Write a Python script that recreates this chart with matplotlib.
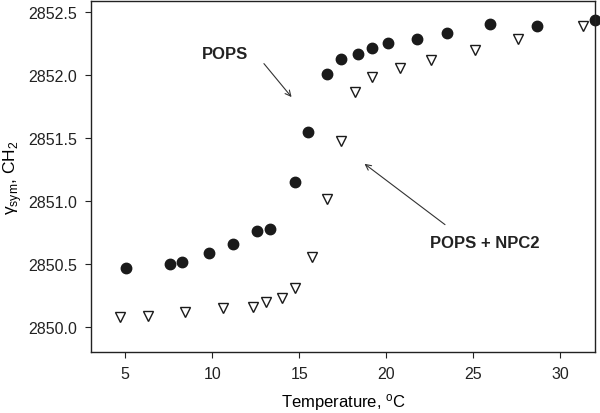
import matplotlib.pyplot as plt

plt.rcParams['font.family'] = ['Liberation Sans', 'DejaVu Sans']
plt.rcParams['mathtext.fontset'] = 'custom'
plt.rcParams['mathtext.rm'] = 'Liberation Sans'

# POPS (filled circles)
pops_t = [5.06, 7.59, 8.28, 9.81, 11.22, 12.59, 13.32, 14.77, 15.5, 16.59,
          17.37, 18.37, 19.2, 20.1, 21.78, 23.49, 25.98, 28.68, 32.0]
pops_v = [2850.47, 2850.50, 2850.52, 2850.59, 2850.66, 2850.76, 2850.78, 2851.15,
          2851.55, 2852.01, 2852.13, 2852.17, 2852.22, 2852.26, 2852.29, 2852.34,
          2852.41, 2852.39, 2852.44]

# POPS + NPC2 (open triangles)
npc_t = [4.71, 6.30, 8.41, 10.61, 12.32, 13.09, 14.0, 14.77, 15.73, 16.59,
         17.40, 18.2, 19.2, 20.79, 22.59, 25.07, 27.57, 31.28]
npc_v = [2850.08, 2850.09, 2850.12, 2850.15, 2850.16, 2850.20, 2850.23, 2850.31,
         2850.56, 2851.02, 2851.48, 2851.87, 2851.99, 2852.06, 2852.12, 2852.20,
         2852.29, 2852.39]

fig = plt.figure(figsize=(6, 4.14), dpi=100)
ax = fig.add_axes([0.152, 0.147, 0.84, 0.848])

ax.plot(pops_t, pops_v, 'o', color='#1a1a1a', markersize=7.5, linestyle='none', clip_on=False)
ax.plot(npc_t, npc_v, 'v', markerfacecolor='white', markeredgecolor='#1a1a1a',
        markersize=7.5, markeredgewidth=1.0, linestyle='none', clip_on=False)

ax.set_xlim(3.05, 32.0)
ax.set_ylim(2849.8, 2852.59)
ax.set_xticks([5, 10, 15, 20, 25, 30])
ax.set_yticks([2850.0, 2850.5, 2851.0, 2851.5, 2852.0, 2852.5])
ax.yaxis.set_major_formatter(plt.FormatStrFormatter('%.1f'))
ax.tick_params(direction='out', length=4, labelsize=11.5, colors='#222222', pad=6)

for s in ax.spines.values():
    s.set_linewidth(1.0)
    s.set_color('#222222')

ax.set_xlabel('Temperature, $\\mathregular{^oC}$', fontsize=12, labelpad=7)
ax.set_ylabel('γ$_{\\mathregular{sym}}$, CH$_{\\mathregular{2}}$', fontsize=12.5, labelpad=3)

ax.annotate('', xy=(14.66, 2851.81), xytext=(12.87, 2852.11),
            arrowprops=dict(arrowstyle='->', color='#333333', lw=0.8))
ax.text(10.75, 2852.17, 'POPS', fontsize=12, fontweight='bold', ha='center', va='center', color='#222222')

ax.annotate('', xy=(18.62, 2851.31), xytext=(23.5, 2850.80),
            arrowprops=dict(arrowstyle='->', color='#333333', lw=0.8))
ax.text(25.63, 2850.67, 'POPS + NPC2', fontsize=12, fontweight='bold', ha='center', va='center', color='#222222')

fig.savefig('out.png', dpi=100)
